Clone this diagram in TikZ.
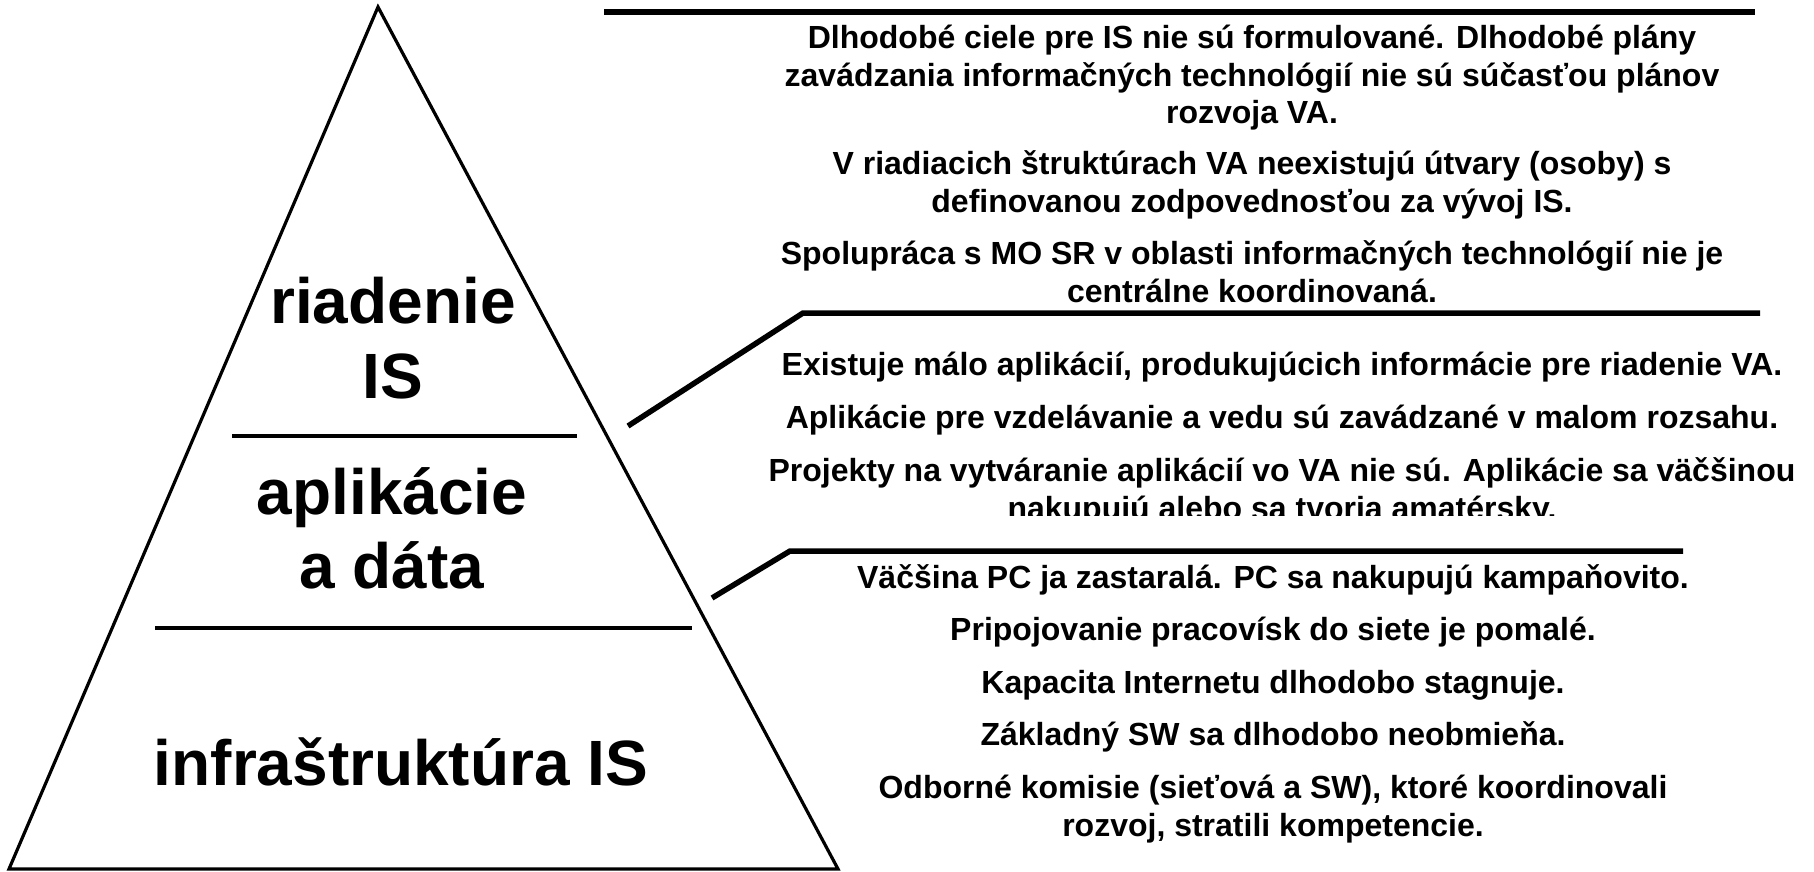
\documentclass[tikz,border=0pt]{standalone}
\usepackage{fontspec}
\setmainfont{Liberation Sans}
\tikzset{
  tri/.style={line width=3.2pt, line join=miter},
  divider/.style={line width=4pt},
  conn/.style={line width=5.5pt, line join=miter},
  big/.style={font=\fontsize{64}{74}\selectfont\bfseries, align=center, inner sep=0pt, anchor=base},
  body/.style={font=\fontsize{32}{37.5}\selectfont\bfseries, align=center, inner sep=0pt, anchor=base},
}
\begin{document}
\begin{tikzpicture}[x=1pt,y=-1pt]
\useasboundingbox (0,0) rectangle (1814,872);
% pyramid
\coordinate (apex) at (378,7);
\coordinate (bl) at (9,869);
\coordinate (br) at (838,869);
\draw[tri] (apex) -- (br) -- (bl) -- cycle;
\coordinate (d1l) at (232,436);
\coordinate (d1r) at (577,436);
\coordinate (d2l) at (155,628);
\coordinate (d2r) at (692,628);
\draw[divider] (d1l) -- (d1r);
\draw[divider] (d2l) -- (d2r);
% pyramid labels (anchor = baseline of last line)
\node[big] (l1) at (393,398) {riadenie\\[1pt]IS};
\node[big] (l2) at (392,588) {aplikácie\\a dáta};
\node[big] (l3) at (401,785) {infraštruktúra IS};
% connectors
\coordinate (c1a) at (604,12);
\coordinate (c1b) at (1755,12);
\draw[conn] (c1a) -- (c1b);
\coordinate (c2a) at (628,426);
\coordinate (c2b) at (803,313);
\coordinate (c2c) at (1760,313);
\draw[conn] (c2a) -- (c2b) -- (c2c);
\coordinate (c3a) at (712,598);
\coordinate (c3b) at (790,551);
\coordinate (c3c) at (1683,551);
\draw[conn] (c3a) -- (c3b) -- (c3c);
% block 1
\node[body] (t11) at (1252,124) {Dlhodobé ciele pre IS nie sú formulované. Dlhodobé plány\\zavádzania informačných technológií nie sú súčasťou plánov\\rozvoja VA.};
\node[body] (t12) at (1252,212) {V riadiacich štruktúrach VA neexistujú útvary (osoby) s\\definovanou zodpovednosťou za vývoj IS.};
\node[body] (t13) at (1252,302) {Spolupráca s MO SR v oblasti informačných technológií nie je\\centrálne koordinovaná.};
% block 2
\node[body] (t21) at (1282,375) {Existuje málo aplikácií, produkujúcich informácie pre riadenie VA.};
\node[body] (t22) at (1282,428) {Aplikácie pre vzdelávanie a vedu sú zavádzané v malom rozsahu.};
\begin{scope}
\clip (600,440) rectangle (1814,515);
\node[body] (t23) at (1282,519) {Projekty na vytváranie aplikácií vo VA nie sú. Aplikácie sa väčšinou\\nakupujú alebo sa tvoria amatérsky.};
\end{scope}
% block 3
\node[body] (t31) at (1273,588) {Väčšina PC ja zastaralá. PC sa nakupujú kampaňovito.};
\node[body] (t32) at (1273,640) {Pripojovanie pracovísk do siete je pomalé.};
\node[body] (t33) at (1273,693) {Kapacita Internetu dlhodobo stagnuje.};
\node[body] (t34) at (1273,745) {Základný SW sa dlhodobo neobmieňa.};
\node[body] (t35) at (1273,836) {Odborné komisie (sieťová a SW), ktoré koordinovali\\rozvoj, stratili kompetencie.};
\end{tikzpicture}
\end{document}
